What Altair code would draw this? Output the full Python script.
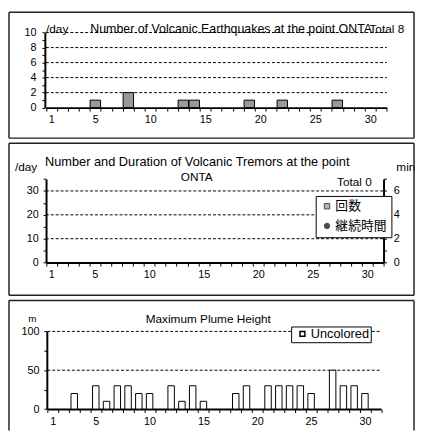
import json
import altair as alt
import pandas as pd

# ---------------- data ----------------
days = list(range(1, 32))
x_label_days = [1, 5, 10, 15, 20, 25, 30]

eq_days = [5, 8, 13, 14, 19, 22, 27]
eq_counts = [1, 2, 1, 1, 1, 1, 1]
eq_grid = [2, 4, 6, 8, 10]
eq_ticks = list(range(0, 11))
eq_labels = [0, 2, 4, 6, 8, 10]

tremor_days = []
tremor_counts = []
tremor_minutes = []
tremor_kind = []
tremor_series = ["回数", "継続時間"]
tremor_grid = [10, 20, 30]
tremor_ticks = [0, 5, 10, 15, 20, 25, 30, 35]
tremor_labels = [0, 10, 20, 30]
minute_ticks = [0, 1, 2, 3, 4, 5, 6, 7]
minute_labels = [0, 2, 4, 6]

plume_days = [3, 5, 6, 7, 8, 9, 10, 12, 13, 14, 15, 18, 19, 21, 22, 23, 24, 25, 27, 28, 29, 30]
plume_heights = [20, 30, 10, 30, 30, 20, 20, 30, 10, 30, 10, 20, 30, 30, 30, 30, 30, 20, 50, 30, 30, 20]
plume_series = ["Uncolored"]
plume_grid = [50, 100]
plume_ticks = [0, 25, 50, 75, 100]
plume_labels = [0, 50, 100]

eq_title = "Number  of Volcanic  Earthquakes  at the point ONTA"
tremor_title = "Number  and Duration  of Volcanic  Tremors  at the point"
tremor_title2 = "ONTA"
plume_title = "Maximum  Plume Height"

FONT = "Liberation Sans"
CJK = "Noto Sans CJK JP"
W, H = 414, 426  # whole drawing area (page offset 8px)


def label_expr(vals):
    return f"indexof({json.dumps(vals)}, datum.value) >= 0 ? datum.label : ''"


def x_enc(rng, axis_y, show=True):
    axis = alt.Axis(
        title=None, orient="bottom", offset=axis_y - H, tickBand="extent",
        labelExpr=label_expr(x_label_days), labelAngle=0, grid=False,
        domainColor="black", domainWidth=2, tickColor="black", tickSize=3.5,
        tickWidth=1, labelPadding=3, labelFont=FONT, labelFontSize=11,
        labelColor="black",
    ) if show else None
    return alt.X("day:O", scale=alt.Scale(domain=days, range=rng, paddingInner=0, paddingOuter=0), axis=axis)


def y_axis(ticks, labels, axis_x, orient="left", pad=5):
    off = -axis_x if orient == "left" else axis_x - W
    return alt.Axis(
        title=None, values=ticks, labelExpr=label_expr(labels), orient=orient,
        offset=off, grid=False, domainColor="black", domainWidth=2,
        tickColor="black", tickSize=3, tickWidth=1, labelPadding=pad,
        labelFont=FONT, labelFontSize=11, labelColor="black",
    )


def text_layer(txt, x, y, align="left", size=12, font=FONT):
    return alt.Chart(pd.DataFrame({"t": [txt]})).mark_text(
        align=align, baseline="alphabetic", font=font, fontSize=size, color="black"
    ).encode(text="t:N", x=alt.value(x), y=alt.value(y))


def hline(x1, x2, y):
    return alt.Chart(pd.DataFrame({"k": [0]})).mark_rule(color="#222", strokeWidth=1.5).encode(
        x=alt.value(x1), x2=alt.value(x2), y=alt.value(y))


def vline(x, y1, y2):
    return alt.Chart(pd.DataFrame({"k": [0]})).mark_rule(color="#222", strokeWidth=1.5).encode(
        x=alt.value(x), y=alt.value(y1), y2=alt.value(y2))


def grid_layer(vals, scale, axis, x1, x2):
    return alt.Chart(pd.DataFrame({"v": vals})).mark_rule(
        color="black", strokeDash=[3, 2], strokeWidth=1
    ).encode(y=alt.Y("v:Q", scale=scale, axis=axis), x=alt.value(x1), x2=alt.value(x2))


FL, FR = 1, 413

# ---------------- panel 1: volcanic earthquakes ----------------
x1r = [38.5, 385.3]
y1 = alt.Scale(domain=[0, 10], range=[97.7, 21.3])
ax1 = y_axis(eq_ticks, eq_labels, 37.5, pad=6)
eq_df = pd.DataFrame({"day": eq_days, "count": eq_counts})
p1 = [
    grid_layer(eq_grid, y1, ax1, x1r[0], x1r[1]),
    alt.Chart(eq_df).mark_bar(
        width=alt.RelativeBandSize(0.95), fill="#999999", stroke="black", strokeWidth=1
    ).encode(x=x_enc(x1r, 97.7), y=alt.Y("count:Q", scale=y1, axis=None)),
    text_layer("/day", 38.7, 21.3),
    text_layer(eq_title, 83.7, 21.3, size=12.6),
    text_layer(f"Total {sum(eq_counts)}", 367.7, 21.6),
    hline(FL, FR, 0.75), hline(FL, FR, 128.7),
    vline(FL, 0.75, 128.7), vline(FR, 0.75, 128.7),
]

# ---------------- panel 2: volcanic tremors ----------------
x2r = [38.5, 382]
y2l = alt.Scale(domain=[0, 35], range=[255.3, 170.3])
y2r = alt.Scale(domain=[0, 7], range=[255.3, 170.3])
ax2l = y_axis(tremor_ticks, tremor_labels, 38.7, pad=5)
ax2r = y_axis(minute_ticks, minute_labels, 382, orient="right", pad=7)
legend2 = alt.Legend(
    title=None, orient="none", legendX=313, legendY=187.5, padding=4,
    strokeColor="black", fillColor="white", symbolSize=30,
    symbolStrokeColor="black", symbolStrokeWidth=1, labelFont=CJK,
    labelFontSize=13, labelColor="black", labelOffset=2, rowPadding=6,
    symbolOffset=1,
)
count_df = pd.DataFrame({"day": tremor_days, "count": tremor_counts})
min_df = pd.DataFrame({"day": tremor_days, "minutes": tremor_minutes, "series": tremor_kind})
p2 = [
    grid_layer(tremor_grid, y2l, ax2l, x2r[0], x2r[1]),
    alt.Chart(count_df).mark_bar(
        width=alt.RelativeBandSize(0.95), fill="#999999", stroke="black", strokeWidth=1
    ).encode(x=x_enc(x2r, 255.3), y=alt.Y("count:Q", scale=y2l, axis=None)),
    alt.Chart(min_df).mark_point(filled=True, size=30).encode(
        x=x_enc(x2r, 255.3, show=False),
        y=alt.Y("minutes:Q", scale=y2r, axis=ax2r),
        color=alt.Color("series:N", scale=alt.Scale(domain=tremor_series, range=["#999999", "black"]), legend=legend2),
        shape=alt.Shape("series:N", scale=alt.Scale(domain=tremor_series, range=["square", "circle"]), legend=legend2),
    ),
    text_layer("/day", 7, 162),
    text_layer(tremor_title, 192.5, 156.6, align="center", size=13),
    text_layer(tremor_title2, 192, 172, align="center"),
    text_layer("min", 395, 162),
    text_layer(f"Total {sum(tremor_counts)}", 370, 177, align="right"),
    hline(FL, FR, 133.8), hline(FL, FR, 288.5),
    vline(FL, 133.8, 288.5), vline(FR, 133.8, 288.5),
]

# ---------------- panel 3: plume height ----------------
x3r = [40, 379.5]
y3 = alt.Scale(domain=[0, 100], range=[404.3, 325.3])
ax3 = y_axis(plume_ticks, plume_labels, 39.5, pad=5)
legend3 = alt.Legend(
    title=None, orient="none", legendX=288, legendY=320.3, padding=1,
    symbolOffset=4, strokeColor="black", fillColor="white", symbolType="square",
    symbolSize=25, symbolStrokeColor="black", symbolStrokeWidth=1.5,
    labelFont=FONT, labelFontSize=13, labelColor="black", labelOffset=2,
)
plume_df = pd.DataFrame({
    "day": plume_days, "height": plume_heights,
    "series": [plume_series[0]] * len(plume_days),
})
p3 = [
    grid_layer(plume_grid, y3, ax3, x3r[0], x3r[1]),
    alt.Chart(plume_df).mark_bar(
        width=alt.RelativeBandSize(0.6), stroke="black", strokeWidth=1
    ).encode(
        x=x_enc(x3r, 404.3),
        y=alt.Y("height:Q", scale=y3, axis=None),
        color=alt.Color("series:N", scale=alt.Scale(domain=plume_series, range=["white"]), legend=legend3),
    ),
    text_layer(plume_title, 203.7, 316.5, align="center"),
    text_layer("m", 20.5, 316, size=10),
    hline(FL, FR, 293.8),
    vline(FL, 293.8, H), vline(FR, 293.8, H),
]

chart = alt.layer(*p1, *p2, *p3).resolve_scale(
    x="independent", y="independent", color="independent", shape="independent"
).properties(
    width=W, height=H,
    autosize=alt.AutoSizeParams(type="none"),
    padding={"left": 0, "top": 0, "right": 0, "bottom": 0},
).configure_view(stroke=None)

chart.save("out.html", embed_options={"renderer": "svg", "actions": False})
